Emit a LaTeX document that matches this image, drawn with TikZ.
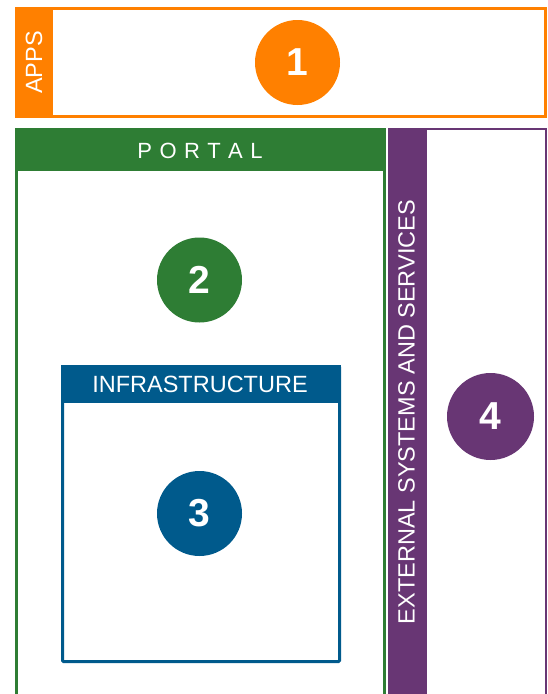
\documentclass[tikz,border=0pt]{standalone}
\usepackage{fontspec}
\setmainfont{Liberation Sans}
\definecolor{apporange}{RGB}{255,128,0}
\definecolor{portgreen}{RGB}{46,125,52}
\definecolor{infblue}{RGB}{0,90,140}
\definecolor{extpurple}{RGB}{104,54,116}
\tikzset{
  numcirc/.style={circle, fill=#1, inner sep=0pt, minimum size=85pt, text=white,
    font=\bfseries\fontsize{39}{39}\selectfont},
  bandlabel/.style={text=white, inner sep=0pt, font=\fontsize{23.5}{23.5}\selectfont},
  frame/.style={draw=#1, line width=3pt},
}
\begin{document}
\begin{tikzpicture}[x=1pt,y=-1pt]
\useasboundingbox (0,0) rectangle (548,694);
\clip (0,0) rectangle (548,694);
% APPS
\draw[frame=apporange] (16.5,8.5) rectangle (545.5,116.5);
\fill[apporange] (15,7) rectangle (53,118);
\node[bandlabel, rotate=90] (appslbl) at (34,62.5) {APPS};
\node[numcirc=apporange] (n1) at (297.5,62.5) {1};
% PORTAL
\draw[frame=portgreen] (16.5,129.5) rectangle (384.5,720);
\fill[portgreen] (15,128) rectangle (386,171);
\node[bandlabel, font=\fontsize{22}{22}\selectfont] (portallbl) at (200,151)
  {P\kern7.4pt O\kern7.4pt R\kern7.4pt T\kern7.4pt A\kern7.4pt L};
\node[numcirc=portgreen] (n2) at (199.5,280) {2};
% INFRASTRUCTURE
\draw[frame=infblue, rounded corners=1pt] (62.5,366.5) rectangle (339.5,661.5);
\fill[infblue] (61,365) rectangle (341,403);
\node[bandlabel] (infralbl) at (200,384) {INFRASTRUCTURE};
\node[numcirc=infblue] (n3) at (199.5,513.5) {3};
% EXTERNAL
\draw[draw=extpurple, line width=2pt] (389,129) rectangle (546,720);
\fill[extpurple] (388,128) rectangle (427,720);
\node[bandlabel, rotate=90] (extlbl) at (406.5,412) {EXTERNAL SYSTEMS AND SERVICES};
\node[numcirc=extpurple, minimum size=87pt] (n4) at (490.5,416.5) {4};
\end{tikzpicture}
\end{document}
